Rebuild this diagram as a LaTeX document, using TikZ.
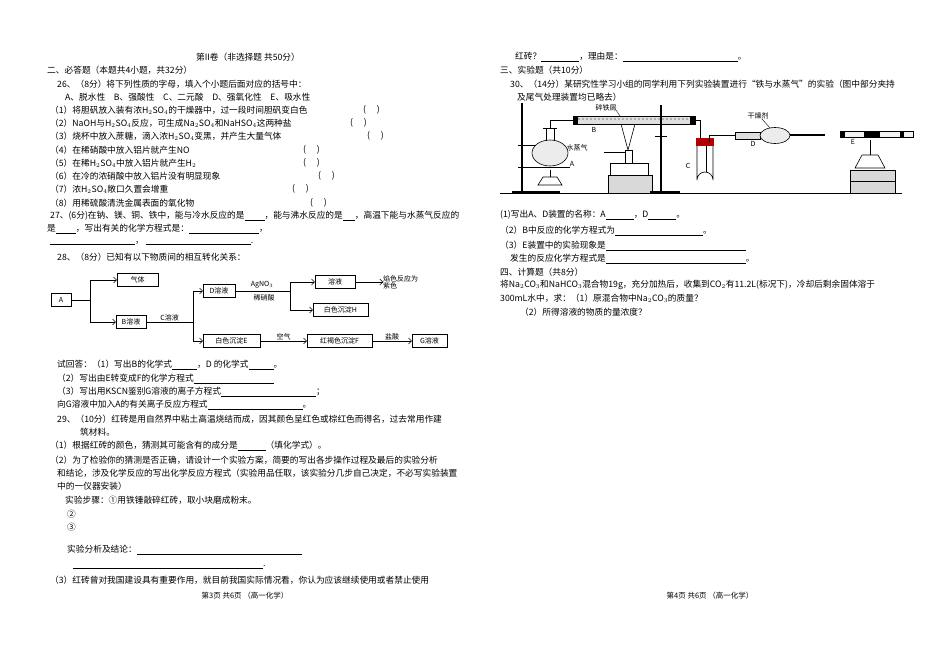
\documentclass[tikz,border=0pt]{standalone}
\usepackage{fontspec}
\setmainfont{Noto Sans CJK SC}
\usetikzlibrary{arrows.meta}
\begin{document}
\begin{tikzpicture}[x=1pt,y=-1pt,
  t/.style={anchor=west,inner sep=0pt,font=\fontsize{8.7pt}{9pt}\selectfont},
  fb/.style={draw,thin,minimum height=13pt,inner sep=1pt,font=\fontsize{7pt}{7pt}\selectfont},
  fl/.style={inner sep=0pt,font=\fontsize{7pt}{7pt}\selectfont},
  ar/.style={-{Straight Barb[length=3pt]},thin},
  app/.style={line width=0.6pt}]
\useasboundingbox (0,0) rectangle (950,650);
\fill[white] (0,0) rectangle (950,650);
% ---- left column
\node[t,anchor=center] at (248,57) {第II卷（非选择题 共50分）};
\node[t] at (47,70) {二、必答题（本题共4小题，共32分）};
\node[t] at (57,84) {26、（8分）将下列性质的字母，填入个小题后面对应的括号中：};
\node[t] at (65,97) {A、脱水性\quad B、强酸性\quad C、二元酸\quad D、强氧化性\quad E、吸水性};
\node[t] at (50,110) {（1）将胆矾放入装有浓H$_2$SO$_4$的干燥器中，过一段时间胆矾变白色};
\node[t] at (363,110) {(\quad\ )};
\node[t] at (50,123) {（2）NaOH与H$_2$SO$_4$反应，可生成Na$_2$SO$_4$和NaHSO$_4$这两种盐};
\node[t] at (350,123) {(\quad\ )};
\node[t] at (50,136) {（3）烧杯中放入蔗糖，滴入浓H$_2$SO$_4$变黑，并产生大量气体};
\node[t] at (367,136) {(\quad\ )};
\node[t] at (50,150) {（4）在稀硝酸中放入铝片就产生NO};
\node[t] at (303,150) {(\quad\ )};
\node[t] at (50,163) {（5）在稀H$_2$SO$_4$中放入铝片就产生H$_2$};
\node[t] at (303,163) {(\quad\ )};
\node[t] at (50,176) {（6）在冷的浓硝酸中放入铝片没有明显现象};
\node[t] at (318,176) {(\quad\ )};
\node[t] at (50,189) {（7）浓H$_2$SO$_4$敞口久置会增重};
\node[t] at (292,189) {(\quad\ )};
\node[t] at (50,203) {（8）用稀硫酸清洗金属表面的氧化物};
\node[t] at (310,203) {(\quad\ )};
\node[t] at (50,216) {27、(6分)在钠、镁、铜、铁中，能与冷水反应的是\underline{\hspace{20pt}}，能与沸水反应的是\underline{\hspace{12pt}}，高温下能与水蒸气反应的};
\node[t] at (47,229) {是\underline{\hspace{20pt}}，写出有关的化学方程式是：\underline{\hspace{70pt}}，};
\node[t] at (50,243) {\underline{\hspace{85pt}}，\ \underline{\hspace{105pt}}.};
\node[t] at (57,257) {28、（8分）已知有以下物质间的相互转化关系：};
% flowchart
\node[fb,minimum width=20pt] (A) at (61,300) {A};
\node[fb,minimum width=41pt] (gas) at (137.5,280) {气体};
\node[fb,minimum width=30pt] (B) at (131,322) {B溶液};
\node[fb,minimum width=32pt] (D) at (219,291) {D溶液};
\node[fb,minimum width=40pt] (S) at (335,282) {溶液};
\node[fb,minimum width=55pt] (H) at (340.5,310) {白色沉淀H};
\node[fb,minimum width=57pt] (E) at (231.5,341) {白色沉淀E};
\node[fb,minimum width=65pt] (F) at (339.5,341) {红褐色沉淀F};
\node[fb,minimum width=35pt] (G) at (429.5,341) {G溶液};
\node[fl,anchor=west,align=left] (flame) at (383,282) {焰色反应为\\紫色};
\coordinate (s1) at (90,300);
\draw[thin] (A.east) -- (s1);
\draw[ar] (s1) |- (gas.west);
\draw[ar] (s1) |- (B.west);
\coordinate (s2) at (193,322);
\draw[thin] (B.east) -- node[fl,above=1pt] {C溶液} (s2);
\draw[ar] (s2) |- (D.west);
\draw[ar] (s2) |- (E.west);
\coordinate (s3) at (290,291);
\draw[thin] (D.east) -- (s3);
\node[fl] at (262,285) {AgNO$_3$};
\node[fl] at (264,298) {稀硝酸};
\draw[ar] (s3) |- (S.west);
\draw[ar] (s3) |- (H.west);
\draw[ar] (S.east) -- (flame.west);
\draw[ar] (E.east) -- node[fl,above=1pt] {空气} (F.west);
\draw[ar] (F.east) -- node[fl,above=1pt] {盐酸} (G.west);
\node[t] at (57,365) {试回答：（1）写出B的化学式\underline{\hspace{25pt}}，D 的化学式\underline{\hspace{25pt}}。};
\node[t] at (57,379) {（2）写出由E转变成F的化学方程式\underline{\hspace{80pt}}};
\node[t] at (57,392) {（3）写出用KSCN鉴别G溶液的离子方程式\underline{\hspace{95pt}}；};
\node[t] at (57,405) {向G溶液中加入A的有关离子反应方程式\underline{\hspace{95pt}}。};
\node[t] at (57,419) {29、（10分）红砖是用自然界中粘土高温烧结而成，因其颜色呈红色或棕红色而得名，过去常用作建};
\node[t] at (80,432) {筑材料。};
\node[t] at (50,446) {（1）根据红砖的颜色，猜测其可能含有的成分是\underline{\hspace{28pt}}（填化学式）。};
\node[t] at (50,460) {（2）为了检验你的猜测是否正确，请设计一个实验方案，简要的写出各步操作过程及最后的实验分析};
\node[t] at (57,473) {和结论，涉及化学反应的写出化学反应方程式（实验用品任取，该实验分几步自己决定，不必写实验装置};
\node[t] at (57,486) {中的一仪器安装）};
\node[t] at (65,500) {实验步骤：①用铁锤敲碎红砖，取小块磨成粉末。};
\node[t] at (67,514) {②};
\node[t] at (67,527) {③};
\node[t] at (67,550) {实验分析及结论：\underline{\hspace{165pt}}};
\node[t] at (73,567) {\underline{\hspace{190pt}}.};
\node[t] at (50,580) {（3）红砖曾对我国建设具有重要作用，就目前我国实际情况看，你认为应该继续使用或者禁止使用};
\node[t,anchor=center,font=\fontsize{7.5pt}{8pt}\selectfont] at (245,596) {第3页 共6页 （高一化学）};
% ---- right column
\node[t] at (515,57) {红砖？\underline{\hspace{38pt}}，理由是：\underline{\hspace{115pt}}。};
\node[t] at (500,70) {三、实验题（共10分）};
\node[t] at (510,84) {30、（14分）某研究性学习小组的同学利用下列实验装置进行“铁与水蒸气”的实验（图中部分夹持};
\node[t] at (517,97) {及尾气处理装置均已略去）};
% apparatus
\draw[app] (500,193) -- (902,193);
% stand 1
\draw[line width=1.2pt] (522,103) -- (522,193);
\fill (512,191) rectangle (560,193);
\draw[app] (518,145) -- (545,145); \draw[app] (518,167) -- (570,167);
% flask A
\draw[app,fill=gray!15] (550,153) ellipse (18 and 13);
\draw[app] (546,141) -- (546,128) (554,141) -- (554,128);
\draw[app] (543,128) -- (557,128);
\draw[app] (550,128) -- (550,120) -- (573,120);
\node[fl] (wv) at (577,148) {水蒸气};
\node[fl] (lA) at (572,164) {A};
\draw[app] (538,185) -- (562,185) -- (557,177) -- (543,177) -- cycle;
\draw[app] (550,177) -- (550,170);
% tube B
\draw[app,fill=gray!25] (573,116) rectangle (695,124);
\foreach \x in {575,579,...,693} \fill[gray] (\x,119) circle (0.8);
\fill (573,116) rectangle (578,124); \fill (690,116) rectangle (695,124);
\node[fl] at (606,107.5) {碎铁屑};
\draw[thin] (616,110) -- (620,116);
\node[fl] at (594,130) {B};
% blowtorch B
\draw[app] (621,124) -- (628,150) -- (635,124);
\draw[app] (625,150) rectangle (632,163);
\draw[app] (604,152) -- (625,152);
\draw[app] (610,163) rectangle (648,175);
\draw[app,fill=gray!30] (608,175) rectangle (652,193);
% stand 2
\draw[line width=1.2pt] (661,105) -- (661,193);
\fill (650,191) rectangle (680,193);
\draw[app] (655,136) -- (667,136);
% C
\draw[app] (695,120) -- (700,120) -- (700,142);
\draw[app] (697,146) -- (697,180) arc (180:360:8) -- (713,146);
\fill[red!70!black] (696,138) rectangle (714,146);
\draw[app] (709,142) -- (709,135) -- (735,135);
\draw[app] (706,146) -- (706,172);
\node[fl] at (688,166) {C};
% D
\draw[app,fill=gray!25] (735,132) rectangle (760,139);
\draw[app,fill=gray!15] (775,135.5) ellipse (15 and 8);
\draw[line width=2pt] (790,135.5) -- (825,135.5);
\node[fl] at (758,116) {干燥剂};
\draw[thin] (762,119) -- (770,128);
\node[fl] at (753,144) {D};
% E
\draw[app,fill=gray!10] (840,131) rectangle (913,137);
\fill (840,131) rectangle (845,137); \fill (900,131) rectangle (904,137);
\fill (864,131) rectangle (880,137);
\node[fl] at (853,142) {E};
\draw[app] (855,168) -- (885,168) -- (878,155) -- (862,155) -- cycle;
\draw[app] (870,155) -- (870,140);
\draw[app,fill=gray!30] (850,170) rectangle (895,193);
\draw[app] (850,181) -- (895,181);
% questions
\node[t] at (500,215) {(1)写出A、D装置的名称：A\underline{\hspace{28pt}}，D\underline{\hspace{28pt}}。};
\node[t] at (500,231) {（2）B中反应的化学方程式为\underline{\hspace{88pt}}。};
\node[t] at (500,246) {（3）E装置中的实验现象是\underline{\hspace{140pt}}};
\node[t] at (510,259) {发生的反应化学方程式是\underline{\hspace{140pt}}。};
\node[t] at (500,272) {四、计算题（共8分）};
\node[t] at (500,285) {将Na$_2$CO$_3$和NaHCO$_3$混合物19g，充分加热后，收集到CO$_2$有11.2L(标况下)，冷却后剩余固体溶于};
\node[t] at (500,298) {300mL水中，求：（1）原混合物中Na$_2$CO$_3$的质量？};
\node[t] at (520,312) {（2）所得溶液的物质的量浓度？};
\node[t,anchor=center,font=\fontsize{7.5pt}{8pt}\selectfont] at (710,596) {第4页 共6页 （高一化学）};
\end{tikzpicture}
\end{document}
